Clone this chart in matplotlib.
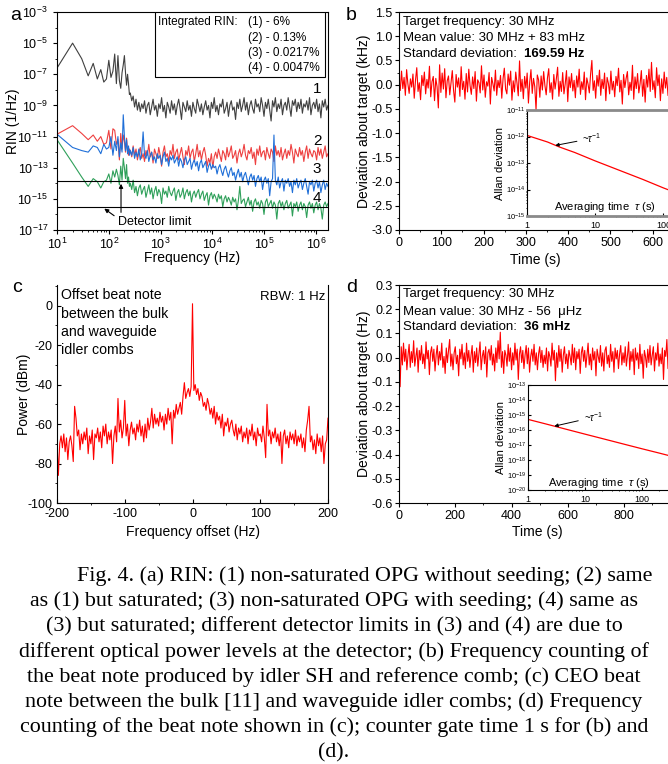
import numpy as np
import matplotlib
matplotlib.use('Agg')
import matplotlib.pyplot as plt
from matplotlib.patches import Rectangle
from matplotlib.ticker import MultipleLocator, FixedLocator, NullFormatter

plt.rcParams['font.family'] = ['Liberation Sans', 'DejaVu Sans']
plt.rcParams['mathtext.fontset'] = 'custom'
plt.rcParams['mathtext.rm'] = 'Liberation Sans'
plt.rcParams['mathtext.it'] = 'Liberation Sans:italic'
plt.rcParams['mathtext.bf'] = 'Liberation Sans:bold'
plt.rcParams['axes.unicode_minus'] = False
plt.rcParams['axes.linewidth'] = 0.8

# ---------------- data (a): RIN, log10 values ----------------
f_lo = np.arange(10, 260, 10)
f_hi = np.geomspace(260, 1.7e6, 140)

rin1_lo = [-6.6, -5.0, -6.0, -7.1, -6.3, -7.3, -6.7, -7.5, -7.3, -6.1, -7.2, -6.8, -5.7,
           -7.6, -5.8, -7.4, -7.9, -6.9, -6.4, -5.8, -6.9, -7.7, -7.0, -7.6, -8.3]
rin1_hi = [-8.2, -8.7, -8.4, -9.1, -8.6, -9.3, -8.8, -9.4, -8.9, -9.2,
           -8.7, -9.5, -9.0, -8.8, -9.6, -9.1, -8.6, -9.3, -9.0, -9.7,
           -8.9, -9.2, -8.5, -9.4, -9.0, -9.8, -8.8, -9.1, -9.5, -8.7,
           -9.3, -8.9, -9.6, -9.0, -8.6, -9.2, -9.9, -8.8, -9.1, -9.4,
           -8.7, -9.3, -9.0, -9.7, -8.8, -9.2, -9.5, -8.6, -9.0, -9.4,
           -8.9, -9.6, -9.1, -8.7, -9.3, -9.0, -9.8, -8.8, -9.2, -8.5,
           -9.4, -9.0, -9.6, -8.9, -9.1, -8.6, -9.5, -9.2, -8.8, -9.7,
           -9.0, -8.7, -9.3, -9.1, -9.9, -8.8, -9.2, -8.6, -9.4, -9.0,
           -8.5, -9.3, -8.8, -9.6, -9.0, -8.7, -9.2, -9.5, -8.6, -9.1,
           -8.9, -9.4, -8.5, -9.0, -9.7, -8.8, -9.2, -8.6, -9.3, -10.0,
           -8.7, -9.1, -8.5, -9.4, -8.9, -9.2, -8.6, -9.6, -9.0, -8.8,
           -9.3, -8.5, -9.1, -9.7, -8.7, -9.0, -8.6, -9.4, -8.8, -9.2,
           -8.6, -9.5, -8.9, -9.1, -8.7, -9.3, -8.5, -9.6, -9.0, -8.8,
           -9.2, -8.6, -9.4, -8.9, -9.8, -8.7, -9.1, -8.6, -9.3, -9.0]

rin2_lo = [-10.85, -10.3, -10.8, -11.2, -10.9, -11.3, -11.0, -11.5, -11.4, -10.6, -11.8,
           -10.5, -10.6, -11.5, -11.2, -12.5, -10.8, -11.8, -10.9, -11.3, -12.0, -11.1,
           -11.9, -12.2, -11.8]
rin2_hi = [-11.9, -12.3, -11.6, -12.2, -11.8, -12.5, -12.0, -11.7, -12.4, -12.1,
           -12.6, -11.9, -12.2, -11.5, -12.3, -12.0, -12.7, -11.8, -12.1, -12.4,
           -11.7, -12.2, -12.9, -12.0, -11.6, -12.3, -12.1, -12.6, -11.9, -12.2,
           -11.5, -12.4, -12.0, -11.8, -12.5, -12.1, -11.7, -12.3, -12.8, -11.9,
           -12.2, -11.6, -12.4, -12.0, -11.8, -12.6, -12.1, -11.5, -12.3, -11.9,
           -12.5, -12.0, -11.7, -12.2, -12.9, -12.4, -12.7, -12.1, -13.0, -12.3,
           -12.0, -12.4, -11.8, -12.2, -12.6, -11.9, -12.1, -12.5, -11.7, -12.3,
           -12.0, -11.6, -12.4, -12.2, -11.9, -12.7, -12.1, -11.8, -12.3, -12.0,
           -11.5, -12.2, -12.5, -11.9, -12.1, -11.7, -12.4, -12.0, -12.8, -11.8,
           -12.2, -11.6, -12.3, -12.0, -11.9, -12.5, -11.7, -12.1, -12.4, -11.8,
           -12.0, -12.6, -11.6, -12.2, -11.9, -12.3, -11.7, -12.5, -12.1, -11.8,
           -12.4, -11.9, -12.2, -11.5, -12.0, -12.7, -11.8, -12.1, -12.3, -11.7,
           -12.2, -11.9, -12.6, -12.0, -11.6, -12.4, -11.8, -12.1, -12.3, -11.9,
           -12.0, -12.5, -11.7, -12.2, -11.8, -12.4, -12.0, -11.6, -12.3, -12.1]

rin3_lo = [-10.85, -11.7, -11.9, -12.0, -11.6, -11.7, -12.1, -11.5, -11.8, -11.7, -11.0,
           -12.2, -11.3, -11.9, -11.0, -12.3, -11.4, -12.0, -9.6, -11.0, -11.9, -11.2,
           -12.1, -11.6, -12.2]
rin3_hi = [-11.9, -12.2, -11.7, -12.4, -12.0, -12.3, -11.8, -12.5, -12.1, -10.7,
           -12.2, -12.4, -11.9, -12.6, -12.2, -12.0, -12.5, -12.3, -12.7, -12.1,
           -12.4, -12.2, -12.8, -12.3, -12.0, -12.6, -12.4, -12.9, -12.3, -12.5,
           -12.2, -12.7, -12.5, -12.3, -12.9, -12.4, -12.6, -13.0, -12.5, -12.3,
           -12.8, -12.6, -12.4, -13.1, -12.7, -12.5, -12.9, -12.6, -13.2, -12.7,
           -12.5, -13.0, -12.8, -12.6, -13.3, -12.9, -12.7, -13.1, -12.8, -13.0,
           -12.9, -13.4, -13.0, -12.8, -13.2, -13.5, -13.1, -12.9, -13.3, -13.6,
           -13.2, -13.0, -13.5, -13.3, -13.8, -13.4, -13.1, -13.6, -13.3, -13.9,
           -13.5, -13.3, -13.7, -14.1, -13.6, -13.4, -13.8, -13.5, -14.2, -13.7,
           -13.5, -13.9, -13.6, -14.4, -13.8, -13.6, -14.0, -13.7, -14.8, -13.9,
           -13.7, -10.9, -13.8, -14.1, -13.6, -14.3, -13.9, -13.7, -14.5, -13.8,
           -14.0, -13.7, -14.2, -13.9, -14.6, -13.8, -14.1, -13.7, -14.3, -14.0,
           -13.8, -14.4, -14.0, -13.7, -14.2, -14.7, -13.9, -14.1, -13.8, -14.5,
           -14.0, -13.8, -14.3, -13.9, -14.6, -14.1, -13.8, -14.4, -14.0, -14.2]

rin4_lo = [-11.2, -12.7, -13.6, -14.2, -13.7, -13.9, -14.3, -13.9, -13.8, -13.4, -14.0,
           -13.2, -13.6, -13.1, -13.5, -14.1, -12.9, -13.8, -12.4, -13.0, -13.7, -12.8,
           -14.0, -13.6, -14.2]
rin4_hi = [-14.0, -14.4, -13.8, -14.6, -14.2, -14.8, -14.3, -14.1, -14.7, -14.4,
           -14.2, -14.9, -14.5, -14.1, -14.7, -14.3, -15.0, -14.5, -14.2, -14.8,
           -14.4, -14.6, -15.3, -14.3, -14.7, -14.5, -14.9, -14.2, -14.6, -14.8,
           -14.5, -14.3, -15.1, -14.6, -14.4, -14.9, -14.7, -14.3, -15.0, -14.6,
           -14.4, -14.8, -14.5, -15.2, -14.7, -14.5, -14.9, -14.6, -14.4, -15.0,
           -14.7, -14.5, -15.1, -14.8, -14.6, -15.4, -14.8, -14.6, -15.0, -14.7,
           -14.9, -15.2, -14.7, -15.0, -14.8, -15.5, -15.0, -14.8, -15.2, -14.9,
           -15.1, -15.4, -14.9, -15.2, -15.0, -15.7, -15.1, -14.2, -15.3, -15.1,
           -15.0, -15.5, -15.2, -14.9, -15.4, -15.1, -15.8, -15.2, -15.0, -15.4,
           -15.2, -15.6, -15.1, -15.3, -16.0, -15.2, -15.0, -15.5, -15.3, -15.1,
           -15.6, -15.2, -15.4, -16.3, -15.3, -15.1, -15.5, -15.2, -15.7, -15.3,
           -15.1, -15.6, -15.4, -15.2, -16.1, -15.3, -15.5, -15.2, -15.8, -15.4,
           -15.2, -15.7, -15.3, -15.5, -16.2, -15.4, -15.2, -15.6, -15.3, -15.9,
           -15.4, -15.2, -15.7, -15.3, -15.6, -16.3, -15.4, -15.2, -15.5, -15.3]

det_limits = [1.4e-14, 3e-16]
rin_int = ['(1) - 6%', '(2) - 0.13%', '(3) - 0.0217%', '(4) - 0.0047%']

# ---------------- data (b): deviation in kHz, 3 s steps ----------------
dev_b = [0.05, -0.12, 0.28, -0.08, 0.15, -0.22, 0.31, 0.02, -0.18, 0.12,
         -0.05, 0.22, -0.28, 0.09, 0.35, -0.14, 0.04, -0.31, 0.19, -0.02,
         0.26, -0.19, 0.11, -0.07, 0.38, -0.25, 0.06, 0.17, -0.33, 0.13,
         -0.04, -0.48, 0.41, -0.16, 0.24, -0.09, 0.33, -0.27, 0.08, 0.18,
         -0.21, 0.03, 0.29, -0.12, -0.36, 0.21, -0.05, 0.14, -0.24, 0.37,
         -0.10, 0.07, -0.30, 0.23, -0.15, 0.32, -0.02, -0.20, 0.16, -0.08,
         0.27, -0.34, 0.10, 0.04, -0.17, 0.39, -0.11, 0.20, -0.26, 0.06,
         -0.03, 0.25, -0.40, 0.15, 0.02, -0.13, 0.30, -0.22, 0.09, -0.06,
         0.19, -0.28, 0.12, 0.34, -0.09, -0.19, 0.22, -0.01, 0.28, -0.32,
         0.08, -0.15, 0.26, 0.03, -0.23, 0.49, -0.14, 0.11, -0.29, 0.17,
         -0.07, 0.24, -0.38, 0.05, 0.31, -0.18, 0.13, -0.04, -0.52, 0.20,
         0.10, -0.26, 0.18, -0.11, 0.27, -0.02, -0.21, 0.14, 0.33, -0.16,
         0.04, -0.30, 0.21, -0.09, 0.12, 0.36, -0.24, 0.07, -0.14, 0.25,
         -0.19, 0.02, 0.29, -0.35, 0.16, -0.06, 0.23, -0.13, 0.09, -0.27,
         0.18, -0.05, 0.32, -0.20, 0.06, -0.10, 0.26, -0.31, 0.14, 0.01,
         -0.17, 0.22, 0.50, -0.12, 0.08, -0.28, 0.19, -0.03, 0.30, -0.22,
         0.11, -0.08, 0.24, -0.33, 0.15, 0.03, -0.19, 0.28, -0.11, 0.07,
         -0.25, 0.17, -0.02, 0.34, -0.15, 0.09, -0.40, 0.21, -0.06, 0.13,
         0.27, -0.21, 0.05, -0.12, 0.40, -0.30, 0.16, -0.08, 0.23, -0.17,
         0.02, 0.29, -0.24, 0.11, -0.36, 0.19, -0.05, 0.32, -0.14, 0.46,
         -0.10, 0.08, -0.27, 0.35, -0.02, 0.20, -0.33, 0.12, -0.18, 0.26,
         -0.07, 0.15, -0.22]
tau_b = [1, 2, 3, 5, 10, 20, 50, 100, 200]
adev_b = [1.1e-12, 6.2e-13, 4.0e-13, 2.5e-13, 1.2e-13, 6.0e-14, 2.4e-14, 1.15e-14, 5.8e-15]

# ---------------- data (c): beat note, dBm, 2 Hz steps ----------------
pow_c = [-68, -86, -70, -66, -72, -65, -74, -67, -78, -69,
         -66, -71, -79, -51, -57, -66, -63, -73, -65, -70,
         -64, -68, -62, -75, -66, -70, -63, -78, -65, -67,
         -62, -69, -64, -72, -61, -66, -60, -70, -64, -68,
         -63, -80, -66, -61, -69, -47, -64, -58, -67, -62,
         -48, -66, -60, -71, -63, -59, -65, -62, -68, -60,
         -64, -58, -66, -61, -69, -60, -67, -57, -63, -59,
         -52, -62, -55, -60, -57, -61, -54, -59, -56, -63,
         -55, -60, -52, -58, -54, -70, -53, -57, -50, -55,
         -52, -49, -55, -46, -39, -47, -44, -42, -46, -41,
         1, -43, -40, -45, -42, -48, -44, -46, -51, -49,
         -53, -47, -50, -55, -52, -57, -51, -60, -54, -58,
         -56, -62, -55, -66, -59, -61, -57, -64, -60, -58,
         -63, -66, -60, -68, -62, -65, -61, -69, -64, -67,
         -62, -70, -63, -66, -60, -68, -64, -71, -62, -66,
         -65, -69, -61, -67, -77, -50, -66, -63, -70, -64,
         -67, -62, -69, -65, -71, -64, -80, -66, -63, -70,
         -66, -72, -64, -68, -65, -70, -63, -71, -66, -69,
         -65, -72, -67, -74, -63, -58, -51, -69, -66, -73,
         -68, -75, -65, -71, -67, -74, -66, -80, -70, -68,
         -57]

# ---------------- data (d): deviation in mHz, 4 s steps ----------------
dev_d = [20, -120, 45, -30, 60, -15, 35, -50, 10, 55,
         -40, 25, -20, 70, -35, 5, 40, -60, 30, -10,
         50, -25, 15, -45, 65, -5, 30, -70, 20, 45,
         -15, 35, -55, 10, 50, -30, 25, -10, 60, -40,
         5, -65, 40, -20, 30, 75, -35, 15, -50, 20,
         45, -25, 10, -75, 35, -5, 55, -30, 20, -45,
         60, -15, 30, -40, 10, 50, -60, 25, -20, 40,
         -35, 15, 65, -50, 5, 30, -25, 45, -80, 20,
         35, -10, 50, -30, 15, -55, 40, -20, 70, -5,
         105, -40, 25, -65, 30, 10, -35, 55, -15, 40,
         -50, 20, -30, 60, -10, 35, -90, 15, 45, -20,
         30, -45, 10, 50, -25, 40, -60, 5, 35, -15,
         55, -30, 20, -50, 15, 45, -20, 30, -40, 10,
         -25, 40, -55, 25, 5, -35, 60, -10, 30, -95,
         20, -40, 50, -15, 35, -60, 10, 45, -25, 15,
         -45, 30, 5, -30, 55, -20, 40, -50, 25, -5,
         35, -65, 20, 45, -15, 30, -40, 10, 60, -30,
         15, -50, 40, -10, 25, -75, 35, 5, -20, 50,
         -35, 20, -55, 30, 45, -25, 10, -40, 55, -15,
         25, -60, 40, -5, 30, -45, 15, 50, -30, 20,
         -20, 45, -35, 10, 65, -50, 25, -15, 35, -70,
         40, -10, 20, -45, 55, -25, 15, -85, 30, 5,
         -40, 35, -20, 50, -30, 10, 45, -55, 20, -10,
         60, -35, 15, -25, 40, -90, 30, 5, 75, -45,
         20]
tau_d = [1, 2, 5, 10, 20, 50, 100, 200, 300]
adev_d = [5.1e-16, 2.6e-16, 1.05e-16, 5.3e-17, 2.7e-17, 1.1e-17, 5.6e-18, 2.9e-18, 1.95e-18]

caption = [
    "Fig. 4. (a) RIN: (1) non-saturated OPG without seeding; (2) same",
    "as (1) but saturated; (3) non-saturated OPG with seeding; (4) same as",
    "(3) but saturated; different detector limits in (3) and (4) are due to",
    "different optical power levels at the detector; (b) Frequency counting of",
    "the beat note produced by idler SH and reference comb; (c) CEO beat",
    "note between the bulk [11] and waveguide idler combs; (d) Frequency",
    "counting of the beat note shown in (c); counter gate time 1 s for (b) and",
    "(d).",
]

# ---------------- figure ----------------
W, H = 668, 764
fig = plt.figure(figsize=(W / 100, H / 100), dpi=100)


def rect(l, t, r, b):
    return [l / W, 1 - b / H, (r - l) / W, (b - t) / H]


TICK = 9
LAB = 10

# ----- (a) -----
ax = fig.add_axes(rect(57, 12, 328, 230))
ax.plot(np.r_[f_lo, f_hi], 10 ** np.r_[rin1_lo, rin1_hi], color='#404040', lw=0.8)
ax.plot(np.r_[f_lo, f_hi], 10 ** np.r_[rin2_lo, rin2_hi], color='#ee4040', lw=0.8)
ax.plot(np.r_[f_lo, f_hi], 10 ** np.r_[rin3_lo, rin3_hi], color='#1f6fd8', lw=0.8)
ax.plot(np.r_[f_lo, f_hi], 10 ** np.r_[rin4_lo, rin4_hi], color='#2fa05a', lw=0.8)
for lim in det_limits:
    ax.axhline(lim, color='k', lw=0.8)
ax.set_xscale('log')
ax.set_yscale('log')
ax.set_xlim(10, 1.7e6)
ax.set_ylim(1e-17, 1e-3)
ax.yaxis.set_major_locator(FixedLocator([10.0 ** e for e in range(-17, -2, 2)]))
ax.yaxis.set_minor_locator(FixedLocator([10.0 ** e for e in range(-16, -3, 2)]))
ax.yaxis.set_minor_formatter(NullFormatter())
ax.xaxis.set_major_locator(FixedLocator([10.0 ** e for e in range(1, 7)]))
ax.tick_params(labelsize=TICK, direction='out', length=3)
ax.tick_params(which='minor', length=1.5)
ax.tick_params(axis='x', pad=2)
ax.set_xlabel('Frequency (Hz)', fontsize=LAB)
ax.set_ylabel('RIN (1/Hz)', fontsize=LAB)
ax.xaxis.set_label_coords(0.5, -0.095)
ax.yaxis.set_label_coords(-0.135, 0.5)
ax.add_patch(Rectangle((0.362, 0.702), 0.627, 0.298, transform=ax.transAxes,
                       facecolor='white', edgecolor='k', lw=0.8, zorder=5))
ax.text(0.373, 0.954, 'Integrated RIN:', transform=ax.transAxes, fontsize=8.5,
        va='center', zorder=6)
for i, s in enumerate(rin_int):
    ax.text(0.705, 0.954 - i * 0.071, s, transform=ax.transAxes, fontsize=8.5,
            va='center', zorder=6)
for lbl, yv in zip(['1', '2', '3', '4'], [1.2e-8, 5e-12, 8e-14, 1.1e-15]):
    ax.text(1.05e6, yv, lbl, fontsize=11, ha='center', va='center')
ax.text(150, 3.5e-17, 'Detector limit', fontsize=9, va='center')
ax.annotate('', xy=(74, 3e-16), xytext=(140, 6.5e-17),
            arrowprops=dict(arrowstyle='-|>', color='k', lw=0.8, mutation_scale=6))
ax.annotate('', xy=(172, 1.4e-14), xytext=(172, 9e-17),
            arrowprops=dict(arrowstyle='-|>', color='k', lw=0.8, mutation_scale=6))

# ----- (b) -----
ax = fig.add_axes(rect(399, 12, 668, 230))
ax.plot(np.arange(len(dev_b)) * 3, dev_b, color='red', lw=0.8)
ax.set_xlim(0, 636)
ax.set_ylim(-3.0, 1.5)
ax.spines['right'].set_visible(False)
ax.xaxis.set_major_locator(MultipleLocator(100))
ax.xaxis.set_minor_locator(MultipleLocator(50))
ax.yaxis.set_major_locator(MultipleLocator(0.5))
ax.yaxis.set_minor_locator(MultipleLocator(0.25))
ax.yaxis.set_major_formatter(plt.FormatStrFormatter('%.1f'))
ax.tick_params(labelsize=TICK, direction='out', length=3)
ax.tick_params(which='minor', length=1.5)
ax.tick_params(axis='y', pad=1.5)
ax.tick_params(axis='x', pad=2)
ax.set_xlabel('Time (s)', fontsize=LAB)
ax.set_ylabel('Deviation about target (kHz)', fontsize=LAB)
ax.xaxis.set_label_coords(0.506, -0.106)
ax.yaxis.set_label_coords(-0.104, 0.5)
ax.text(0.015, 0.954, 'Target frequency: 30 MHz', transform=ax.transAxes,
        fontsize=9.5, va='center')
ax.text(0.015, 0.881, 'Mean value: 30 MHz + 83 mHz', transform=ax.transAxes,
        fontsize=9.5, va='center')
t = ax.text(0.015, 0.78, 'Standard deviation:  ', transform=ax.transAxes,
            fontsize=9.5, va='bottom')
ax.annotate('169.59 Hz', xy=(1, 0), xycoords=t, fontsize=9.5, fontweight='bold',
            va='bottom')

ins = fig.add_axes(rect(527, 110, 668, 216))
ins.plot(tau_b, adev_b, color='red', lw=0.9)
ins.set_xscale('log')
ins.set_yscale('log')
ins.set_xlim(1, 117)
ins.set_ylim(1e-15, 1e-11)
ins.spines['right'].set_visible(False)
for s in ['top', 'bottom']:
    ins.spines[s].set_color('#8a8a8a')
    ins.spines[s].set_linewidth(2)
ins.xaxis.set_major_formatter(plt.FuncFormatter(lambda v, p: '%g' % v))
ins.tick_params(labelsize=6.5, direction='in', length=2)
ins.tick_params(which='minor', length=1)
ins.tick_params(axis='y', labelsize=5.5, pad=1)
ins.set_ylabel('Allan deviation', fontsize=8, labelpad=1)
ins.text(0.55, 0.085, r'Averaging time  $\tau$ (s)', transform=ins.transAxes,
         fontsize=8, ha='center', va='center')
ins.annotate(r'~$\tau^{-1}$', xy=(2.6, 4.6e-13), xytext=(6.5, 8.5e-13), fontsize=7,
             va='center', arrowprops=dict(arrowstyle='-|>', color='k', lw=0.7,
                                          mutation_scale=5, shrinkB=0))

# ----- (c) -----
ax = fig.add_axes(rect(57, 285, 328, 503))
ax.plot(np.arange(-200, 201, 2), pow_c, color='red', lw=0.8)
ax.set_xlim(-200, 200)
ax.set_ylim(-100, 10.5)
ax.spines['top'].set_visible(False)
ax.xaxis.set_major_locator(MultipleLocator(100))
ax.xaxis.set_minor_locator(MultipleLocator(50))
ax.yaxis.set_major_locator(MultipleLocator(20))
ax.yaxis.set_minor_locator(MultipleLocator(10))
ax.tick_params(labelsize=TICK, direction='in', length=3)
ax.tick_params(which='minor', length=1.5)
ax.tick_params(right=False, which='both')
ax.set_xlabel('Frequency offset (Hz)', fontsize=LAB)
ax.set_ylabel('Power (dBm)', fontsize=LAB)
ax.xaxis.set_label_coords(0.5, -0.102)
ax.yaxis.set_label_coords(-0.096, 0.5)
ax.text(0.015, 0.985, 'Offset beat note\nbetween the bulk\nand waveguide\nidler combs',
        transform=ax.transAxes, fontsize=10.2, va='top', linespacing=1.4)
ax.text(0.989, 0.945, 'RBW: 1 Hz', transform=ax.transAxes, fontsize=9.5,
        ha='right', va='center')

# ----- (d) -----
ax = fig.add_axes(rect(399, 285, 668, 503))
ax.plot(np.arange(len(dev_d)) * 4, np.array(dev_d) / 1000, color='red', lw=0.8)
ax.set_xlim(0, 956)
ax.set_ylim(-0.6, 0.3)
ax.spines['right'].set_visible(False)
ax.xaxis.set_major_locator(MultipleLocator(200))
ax.xaxis.set_minor_locator(MultipleLocator(100))
ax.yaxis.set_major_locator(MultipleLocator(0.1))
ax.yaxis.set_minor_locator(MultipleLocator(0.05))
ax.yaxis.set_major_formatter(plt.FormatStrFormatter('%.1f'))
ax.tick_params(labelsize=TICK, direction='out', length=3)
ax.tick_params(which='minor', length=1.5)
ax.tick_params(axis='y', pad=1.5)
ax.tick_params(axis='x', pad=2)
ax.set_xlabel('Time (s)', fontsize=LAB)
ax.set_ylabel('Deviation about target (Hz)', fontsize=LAB)
ax.xaxis.set_label_coords(0.513, -0.1)
ax.yaxis.set_label_coords(-0.104, 0.5)
ax.text(0.015, 0.959, 'Target frequency: 30 MHz', transform=ax.transAxes,
        fontsize=9.5, va='center')
ax.text(0.015, 0.876, 'Mean value: 30 MHz - 56  \u03bcHz', transform=ax.transAxes,
        fontsize=9.5, va='center')
t = ax.text(0.015, 0.78, 'Standard deviation:  ', transform=ax.transAxes,
            fontsize=9.5, va='bottom')
ax.annotate('36 mHz', xy=(1, 0), xycoords=t, fontsize=9.5, fontweight='bold',
            va='bottom')

ins = fig.add_axes(rect(528, 385, 668, 490))
ins.plot(tau_d, adev_d, color='red', lw=0.9)
ins.set_xscale('log')
ins.set_yscale('log')
ins.set_xlim(1, 286)
ins.set_ylim(1e-20, 1e-13)
ins.spines['right'].set_visible(False)
ins.yaxis.set_major_locator(FixedLocator([10.0 ** e for e in range(-20, -12)]))
ins.yaxis.set_minor_formatter(NullFormatter())
ins.xaxis.set_major_formatter(plt.FuncFormatter(lambda v, p: '%g' % v))
ins.tick_params(labelsize=6.5, direction='in', length=2)
ins.tick_params(which='minor', length=1)
ins.tick_params(axis='y', labelsize=5.5, pad=1)
ins.set_ylabel('Allan deviation', fontsize=8, labelpad=1)
ins.text(0.51, 0.07, r'Averaging time  $\tau$ (s)', transform=ins.transAxes,
         fontsize=8, ha='center', va='center')
ins.annotate(r'~$\tau^{-1}$', xy=(2.9, 1.8e-16), xytext=(9.5, 7e-16), fontsize=7,
             va='center', arrowprops=dict(arrowstyle='-|>', color='k', lw=0.7,
                                          mutation_scale=5, shrinkB=0))

# panel letters
for lt, x, y in [('a', 10, 15), ('b', 346, 15), ('c', 12, 287), ('d', 346, 287)]:
    fig.text(x / W, 1 - y / H, lt, fontsize=14, va='center')

# caption
for i, line in enumerate(caption):
    x = 0.5 if i > 0 else 365 / W
    fig.text(x, 1 - (576 + i * 25.2) / H, line, family='Liberation Serif',
             fontsize=15.8, ha='center', va='center')

fig.savefig('out.png', dpi=100)
